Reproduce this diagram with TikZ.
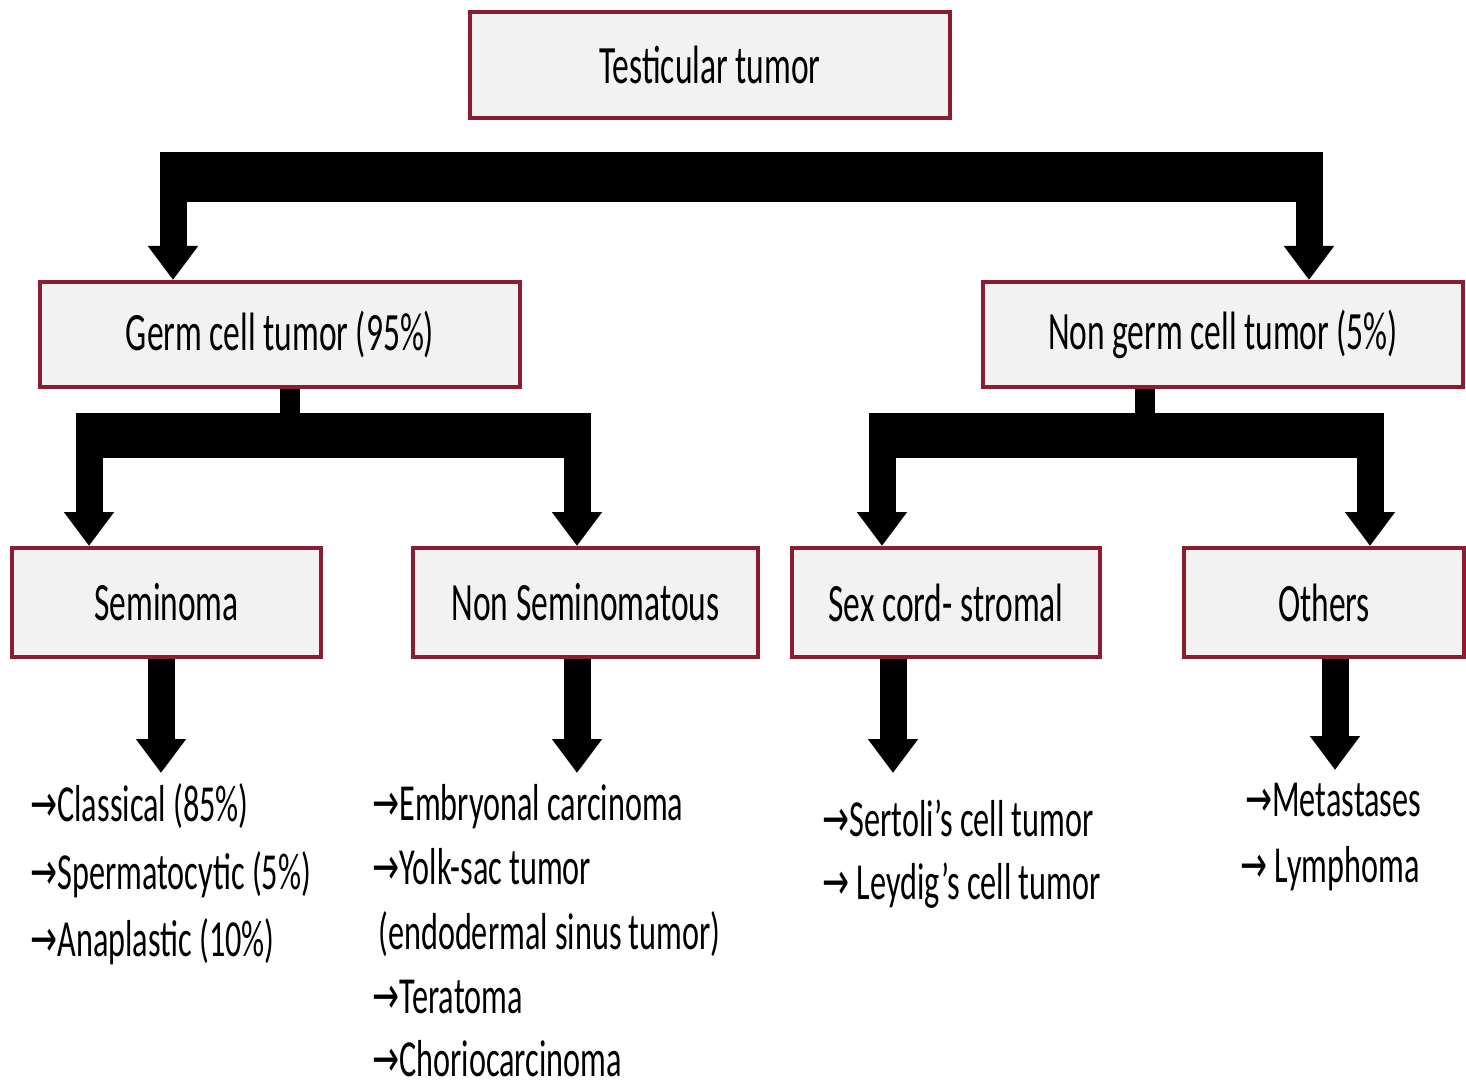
\documentclass[tikz,border=0pt]{standalone}
\usepackage{fontspec}
\setmainfont[FakeStretch=0.62]{Carlito}
\newfontfamily\arrowglyph[FakeStretch=0.62]{DejaVu Sans}
\usetikzlibrary{arrows.meta}
\definecolor{boxred}{RGB}{140,28,48}
\definecolor{boxfill}{RGB}{242,242,242}
\newcommand{\ra}{{\arrowglyph →}}

\begin{document}
\begin{tikzpicture}[x=0.5pt,y=-0.5pt,
  catbox/.style={draw=boxred, line width=2pt, fill=boxfill, inner sep=0pt,
    font=\fontsize{27}{30}\selectfont},
  stem/.style={line width=13.5pt, black, -{Triangle[width=24pt,length=17pt]}},
  item/.style={anchor=base west, inner sep=0pt, font=\fontsize{26}{30}\selectfont}]
\useasboundingbox (0,0) rectangle (1466,1091);

% category boxes
\node[catbox, minimum width=240pt, minimum height=53pt] (top) at (710,65) {Testicular tumor};
\node[catbox, minimum width=240pt, minimum height=52.5pt] (germ) at (280,334.5) {Germ cell tumor (95\%)};
\node[catbox, minimum width=240pt, minimum height=52.5pt] (nongerm) at (1223,334.5) {Non germ cell tumor (5\%)};
\node[catbox, minimum width=154.5pt, minimum height=54.5pt] (sem) at (166.5,602.5) {Seminoma};
\node[catbox, minimum width=172.5pt, minimum height=54.5pt] (nonsem) at (585.5,602.5) {Non Seminomatous};
\node[catbox, minimum width=154pt, minimum height=54.5pt] (sex) at (946,602.5) {Sex cord- stromal};
\node[catbox, minimum width=140pt, minimum height=54.5pt] (others) at (1324,602.5) {Others};

% first split
\coordinate (ja) at (173,177);
\coordinate (jb) at (1309,177);
\draw[line width=25pt] ([xshift=-6.75pt]ja) -- ([xshift=6.75pt]jb);
\draw[stem] (ja) -- (ja |- germ.north);
\draw[stem] (jb) -- (jb |- nongerm.north);

% germ cell split
\coordinate (jg) at (290,435.5);
\coordinate (jc) at (89,435.5);
\coordinate (jd) at (577,435.5);
\draw[line width=10pt] (germ.south -| jg) -- (jg);
\draw[line width=22.5pt] ([xshift=-6.75pt]jc) -- ([xshift=6.75pt]jd);
\draw[stem] (jc) -- (jc |- sem.north);
\draw[stem] (jd) -- (jd |- nonsem.north);

% non germ cell split
\coordinate (jh) at (1145,435.5);
\coordinate (je) at (882,435.5);
\coordinate (jf) at (1370,435.5);
\draw[line width=10pt] (nongerm.south -| jh) -- (jh);
\draw[line width=22.5pt] ([xshift=-6.75pt]je) -- ([xshift=6.75pt]jf);
\draw[stem] (je) -- (je |- sex.north);
\draw[stem] (jf) -- (jf |- others.north);

% arrows down to the lists
\coordinate (semend) at (161,773);
\coordinate (nonsemend) at (577,773);
\coordinate (sexend) at (893,773);
\coordinate (othend) at (1335,770);
\draw[stem] (sem.south -| semend) -- (semend);
\draw[stem] (nonsem.south -| nonsemend) -- (nonsemend);
\draw[stem] (sex.south -| sexend) -- (sexend);
\draw[stem] (others.south -| othend) -- (othend);

% seminoma subtypes
\node[item] (s1) at (30,821) {\ra Classical (85\%)};
\node[item] (s2) at (30,889) {\ra Spermatocytic (5\%)};
\node[item] (s3) at (30,956) {\ra Anaplastic (10\%)};

% non seminomatous subtypes
\node[item] (n1) at (372,820) {\ra Embryonal carcinoma};
\node[item] (n2) at (372,884) {\ra Yolk-sac tumor};
\node[item] (n3) at (378,949) {(endodermal sinus tumor)};
\node[item] (n4) at (372,1013) {\ra Teratoma};
\node[item] (n5) at (372,1076) {\ra Choriocarcinoma};

% sex cord-stromal subtypes
\node[item] (x1) at (822,836) {\ra Sertoli's cell tumor};
\node[item] (x2) at (822,899) {\ra\ Leydig's cell tumor};

% other tumours
\node[item] (o1) at (1245,816) {\ra Metastases};
\node[item] (o2) at (1240,882) {\ra\ Lymphoma};
\end{tikzpicture}
\end{document}
